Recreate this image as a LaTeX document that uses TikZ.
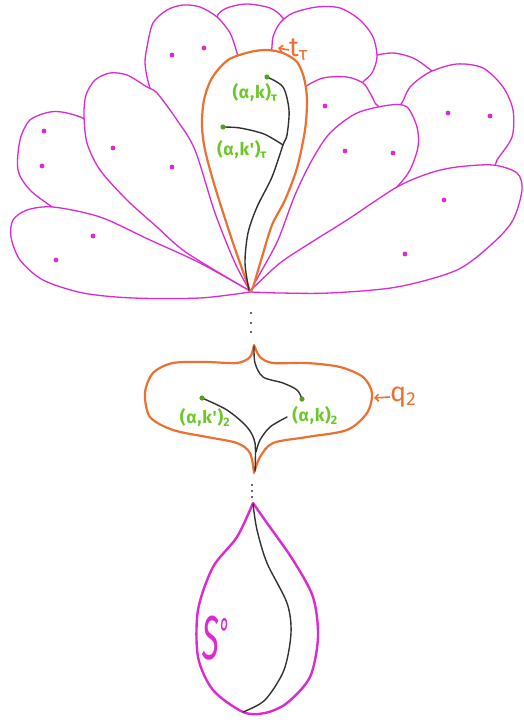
\documentclass[tikz,border=0pt]{standalone}
\usepackage{fontspec}
\setmainfont{Fira Sans}
\newfontfamily\handfont[LetterSpace=4]{Fira Sans}
\usetikzlibrary{arrows.meta}
\definecolor{mag}{RGB}{218,42,208}
\definecolor{org}{RGB}{236,112,50}
\definecolor{grn}{RGB}{108,200,40}
\definecolor{drk}{RGB}{50,50,50}
\begin{document}
\begin{tikzpicture}[x=1pt,y=-1pt,
  petal/.style={draw=mag,line width=1.3pt,fill=white,line join=round},
  pdot/.style={fill=mag},
  orangeline/.style={draw=org,line width=2.2pt,line join=round,line cap=round},
  darkline/.style={draw=drk,line width=1.4pt,line cap=round},
  gdot/.style={fill=grn!80!black},
  glabel/.style={text=grn,font=\handfont\bfseries\fontsize{17.5}{17.5}\selectfont,inner sep=0pt},
  olabel/.style={text=org,font=\fontsize{27}{27}\selectfont,inner sep=0pt},
  oarrow/.style={draw=org,line width=1.6pt,-{Straight Barb[length=3.5pt,width=7pt]}},
  smalldot/.style={fill=drk}
]
\useasboundingbox (0,0) rectangle (523,720);

% ---------- back petals ----------
% B
\filldraw[petal] plot[smooth] coordinates {(250,291) (245,200) (232,80) (222,40) (217,17) (227,8) (247,4) (270,8) (282,17) (285,28) (270,80) (255,200) (250,291)} -- cycle;
% D
\filldraw[petal] plot[smooth] coordinates {(250,291) (270,200) (340,110) (362,70) (372,57) (393,53) (413,58) (428,68) (434,76) (420,100) (390,125) (320,210) (250,291)} -- cycle;
% C
\filldraw[petal] plot[smooth] coordinates {(250,291) (255,200) (262,100) (271,55) (273,37) (280,23) (293,13) (317,7) (340,8) (360,20) (373,37) (377,57) (372,73) (362,83) (352,97) (320,130) (290,200) (250,291)} -- cycle;
% A
\filldraw[petal] plot[smooth] coordinates {(250,291) (225,255) (190,190) (160,120) (152,95) (147,77) (145,62) (147,47) (153,23) (167,10) (183,5) (200,7) (217,17) (230,33) (237,53) (242,75) (238,160) (247,250) (250,291)} -- cycle;
% E
\filldraw[petal] plot[smooth] coordinates {(250,291) (290,230) (360,140) (398,108) (410,87) (430,72) (457,64) (483,68) (503,87) (513,110) (512,137) (497,160) (485,180) (400,230) (300,275) (250,291)} -- cycle;
% F
\filldraw[petal] plot[smooth] coordinates {(250,291) (258,250) (285,150) (300,100) (304,88) (323,78) (347,77) (363,83) (370,93) (375,103) (378,112) (350,150) (300,220) (250,291)} -- cycle;
% I
\filldraw[petal] plot[smooth] coordinates {(250,291) (180,275) (100,240) (55,209) (30,190) (18,170) (20,140) (30,120) (50,112) (67,113) (90,122) (120,150) (160,195) (200,240) (250,291)} -- cycle;
% J
\filldraw[petal] plot[smooth] coordinates {(250,291) (235,263) (215,213) (195,150) (177,120) (157,93) (147,87) (127,75) (110,73) (95,80) (86,95) (84,115) (87,143) (100,170) (127,200) (157,227) (187,253) (250,291)} -- cycle;
% K
\filldraw[petal] plot[smooth] coordinates {(250,291) (200,263) (150,240) (100,217) (53,207) (27,210) (13,220) (11,237) (20,260) (43,280) (83,293) (133,298) (200,298) (250,292)} -- cycle;
% G
\filldraw[petal] plot[smooth] coordinates {(250,291) (262,270) (278,240) (295,195) (312,160) (330,133) (357,113) (390,105) (407,107) (417,127) (418,147) (410,170) (397,187) (370,215) (320,250) (280,272) (250,291)} -- cycle;
% H
\filldraw[petal] plot[smooth] coordinates {(250,291) (280,263) (315,240) (347,220) (397,187) (430,173) (457,167) (493,165) (517,173) (522,190) (513,220) (493,243) (457,270) (397,287) (330,293) (280,293) (250,292)} -- cycle;

% petal dots
\foreach \p in {(44,131),(42,166),(113,148),(172,167),(93,236),(56,260),(172,55),(204,48),(325,106),(345,151),(393,153),(448,113),(490,116),(444,200),(405,254)}
  \fill[pdot] \p circle (2.4);

% ---------- orange petal t_tau ----------
\filldraw[orangeline,fill=white] plot[smooth] coordinates {(250,291) (245,277) (232,240) (215,187) (205,150) (202,125) (204,100) (212,78) (228,60) (250,52) (267,50) (283,53) (297,62) (304,78) (307,100) (305,130) (297,168) (285,200) (272,225) (262,257) (253,287) (250,291)} -- cycle;

\coordinate (k1) at (267,77);
\coordinate (k2) at (223,127);
\draw[darkline] plot[smooth] coordinates {(k1) (283,87) (289,110) (287,135) (283,145) (272,177) (257,207) (248,233) (245,263) (249,290)};
\draw[darkline] plot[smooth] coordinates {(k2) (240,128) (264,134) (283,145)};
\fill[gdot] (k1) circle (2.6);
\fill[gdot] (k2) circle (2.6);

\node[glabel] (lk1) at (255,93) {(α,k)\textsubscript{τ}};
\node[glabel] (lk2) at (242,150) {(α,k')\textsubscript{τ}};

\node[olabel,anchor=west] (tlab) at (289,50) {t\textsubscript{τ}};
\coordinate (tpt) at (278,48);
\draw[oarrow] (tlab.west) -- (tpt);

% dots between
\foreach \y in {313,323,332} \fill[smalldot] (251,\y) circle (1.2);

% ---------- q_2 box ----------
\draw[orangeline] plot[smooth] coordinates {(254,345) (250,357) (237,363) (207,362) (173,363) (153,373) (145,393) (150,417) (173,430) (207,437) (237,443) (250,453) (254,473)}
  -- plot[smooth] coordinates {(254,473) (260,457) (273,443) (307,437) (347,430) (367,413) (372,393) (363,377) (340,367) (307,363) (273,363) (260,357) (254,345)} -- cycle;

\coordinate (qa) at (302,399);
\coordinate (qb) at (202,398);
\draw[darkline] plot[smooth] coordinates {(254,346) (255,363) (263,377) (283,383) (297,390) (qa)};
\draw[darkline] plot[smooth] coordinates {(qb) (227,410) (247,427) (255,443) (255,471)};
\draw[darkline] plot[smooth] coordinates {(287,417) (270,427) (260,440) (256,452)};
\fill[gdot] (qa) circle (2.6);
\fill[gdot] (qb) circle (2.6);

\node[glabel] (lq2) at (205,418) {(α,k')\textsubscript{2}};
\node[glabel] (lq1) at (315,416) {(α,k)\textsubscript{2}};

\node[olabel,anchor=west] (qlab) at (390,397) {q\textsubscript{2}};
\coordinate (qpt) at (374,398);
\draw[oarrow] (qlab.west) -- (qpt);

% dots between
\foreach \y in {485,491,497} \fill[smalldot] (252,\y) circle (1.2);

% ---------- S^o ----------
\draw[draw=mag,line width=2.4pt,line join=round] plot[smooth] coordinates {(253,503) (237,537) (213,567) (198,610) (198,657) (213,690) (243,712) (265,713) (287,703) (310,677) (318,637) (313,597) (293,560) (267,523) (253,503)} -- cycle;
\draw[darkline] plot[smooth] coordinates {(253,504) (257,530) (267,563) (287,603) (291,633) (284,670) (265,700) (243,712)};
\node[text=mag,font=\fontsize{62}{62}\selectfont\itshape,xscale=0.5,inner sep=0pt] (slab) at (216,638) {S\raisebox{13pt}{\fontsize{40}{40}\selectfont °}};
\end{tikzpicture}
\end{document}
